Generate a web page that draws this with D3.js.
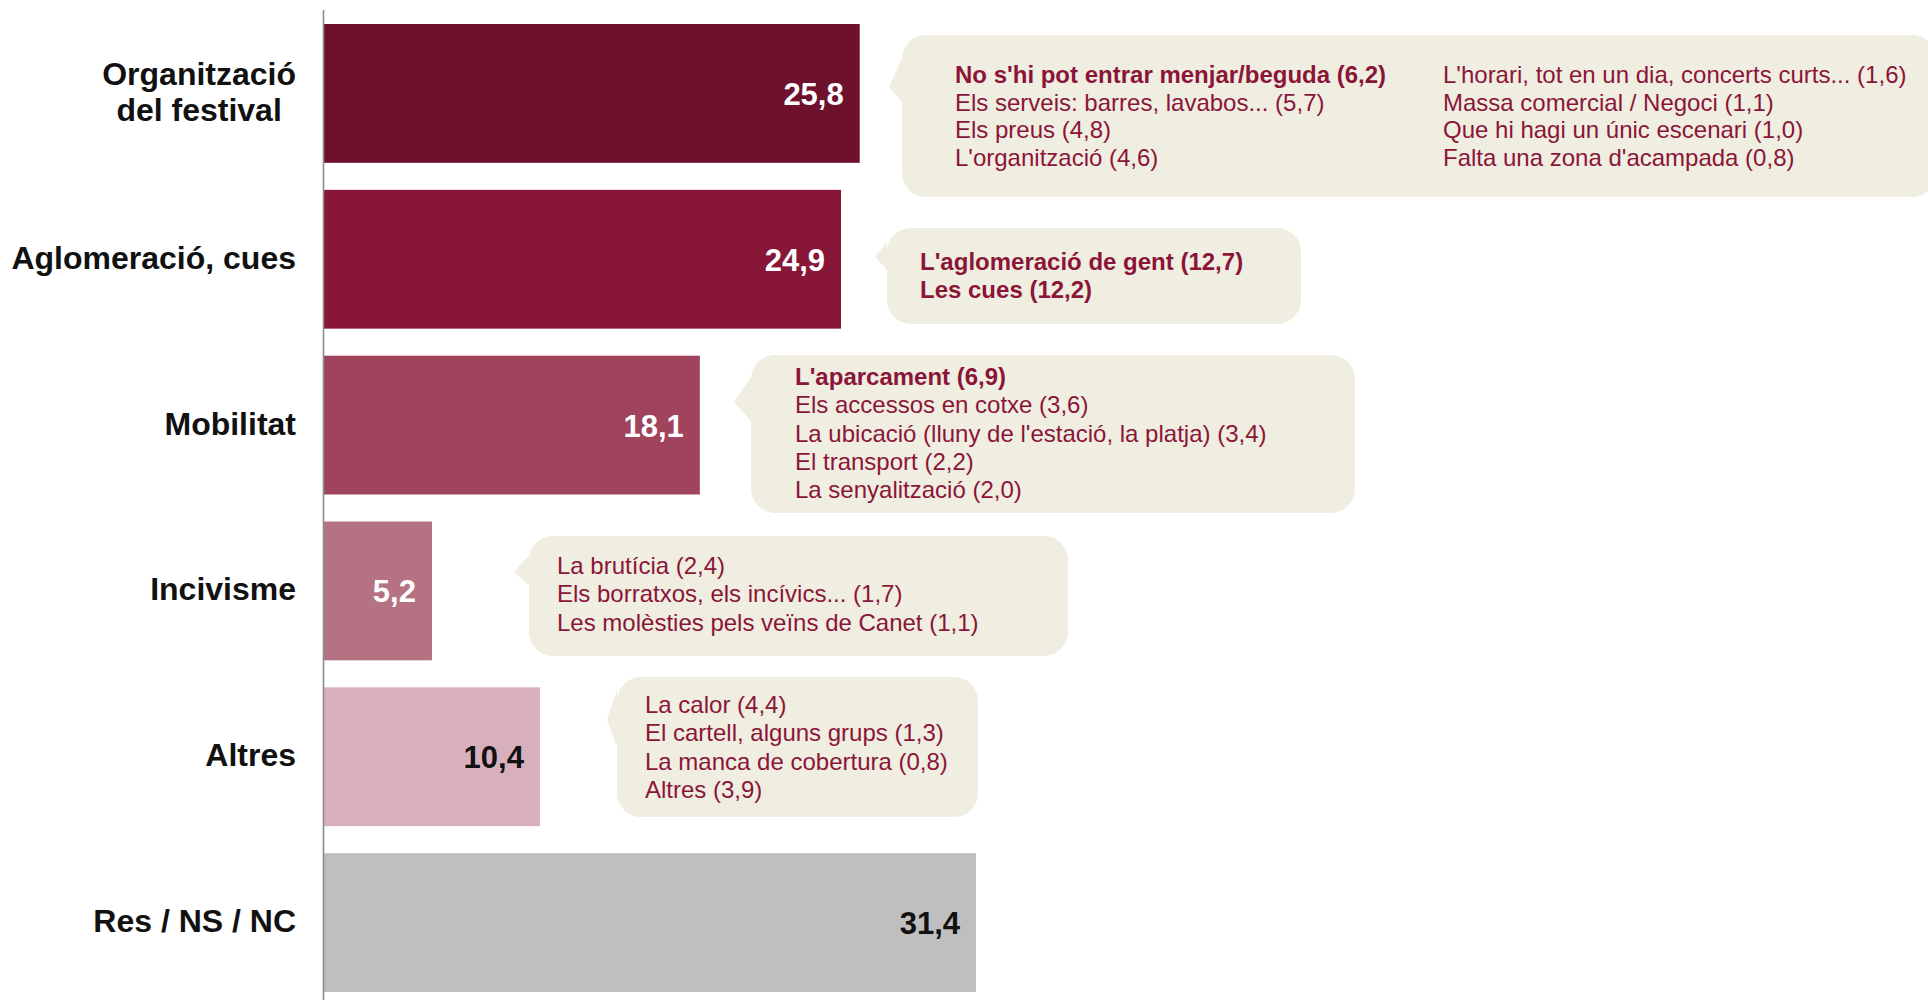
<!DOCTYPE html>
<html>
<head>
<meta charset="utf-8">
<script src="https://cdn.jsdelivr.net/npm/d3@7"></script>
<style>
  html, body { margin: 0; padding: 0; background: #ffffff; }
  svg { display: block; font-family: "Liberation Sans", Arial, Helvetica, sans-serif; }
</style>
</head>
<body>
<svg id="chart" width="1928" height="1000"></svg>
<script>
// ---------- DATA ----------
const categories = ["Organització\ndel festival", "Aglomeració, cues", "Mobilitat", "Incivisme", "Altres", "Res / NS / NC"];
const values = [25.8, 24.9, 18.1, 5.2, 10.4, 31.4];

const orgLabels = ["No s'hi pot entrar menjar/beguda", "Els serveis: barres, lavabos...", "Els preus", "L'organització",
                   "L'horari, tot en un dia, concerts curts...", "Massa comercial / Negoci", "Que hi hagi un únic escenari", "Falta una zona d'acampada"];
const orgValues = [6.2, 5.7, 4.8, 4.6, 1.6, 1.1, 1.0, 0.8];

const aglLabels = ["L'aglomeració de gent", "Les cues"];
const aglValues = [12.7, 12.2];

const mobLabels = ["L'aparcament", "Els accessos en cotxe", "La ubicació (lluny de l'estació, la platja)", "El transport", "La senyalització"];
const mobValues = [6.9, 3.6, 3.4, 2.2, 2.0];

const incLabels = ["La brutícia", "Els borratxos, els incívics...", "Les molèsties pels veïns de Canet"];
const incValues = [2.4, 1.7, 1.1];

const altLabels = ["La calor", "El cartell, alguns grups", "La manca de cobertura", "Altres"];
const altValues = [4.4, 1.3, 0.8, 3.9];

const highlighted = ["No s'hi pot entrar menjar/beguda", "L'aglomeració de gent", "Les cues", "L'aparcament"];

// ---------- STYLE / LAYOUT ----------
const barColors = ["#6d112d", "#881636", "#9f445c", "#b57283", "#d8b0bc", "#bfbfbf"];
const valueColors = ["#ffffff", "#ffffff", "#ffffff", "#ffffff", "#111111", "#111111"];
const calloutFill = "#f0ede1";
const calloutText = "#8b1538";

// callout geometry (pixels), one per category with details
const calloutLayout = [
  {x: 902, y: 35,  w: 1034, h: 162, b1: 58,  b2: 102, tx: 889, ty: 87,  textX: [955, 1443], base: 83,  perCol: 4},
  {x: 887, y: 228, w: 414,  h: 96,  b1: 242, b2: 270, tx: 875, ty: 257, textX: [920],       base: 270, perCol: 99},
  {x: 751, y: 355, w: 604,  h: 158, b1: 377, b2: 421, tx: 734, ty: 402, textX: [795],       base: 385, perCol: 99},
  {x: 529, y: 536, w: 539,  h: 120, b1: 555, b2: 585, tx: 514, ty: 572, textX: [557],       base: 574, perCol: 99},
  {x: 617, y: 677, w: 361,  h: 140, b1: 690, b2: 747, tx: 607, ty: 720, textX: [645],       base: 713, perCol: 99}
];
const detailGroups = [
  [orgLabels, orgValues], [aglLabels, aglValues], [mobLabels, mobValues], [incLabels, incValues], [altLabels, altValues]
];

const fmt = v => d3.format(".1f")(v).replace(".", ",");

const svg = d3.select("#chart");

const x = d3.scaleLinear().domain([0, 31.4]).range([324, 976]);
const y = d3.scaleBand().domain(d3.range(categories.length)).range([10.5, 1005.5]).paddingInner(0.163).paddingOuter(0.0815);

// bars
svg.append("g").selectAll("rect").data(values).join("rect")
  .attr("x", x(0))
  .attr("y", (d, i) => y(i))
  .attr("width", d => x(d) - x(0))
  .attr("height", y.bandwidth())
  .attr("fill", (d, i) => barColors[i]);

// axis line
svg.append("line")
  .attr("x1", x(0) - 0.5).attr("x2", x(0) - 0.5)
  .attr("y1", 10).attr("y2", 1000)
  .attr("stroke", "#8c8c8c").attr("stroke-width", 1.6);

// value labels
svg.append("g").selectAll("text").data(values).join("text")
  .attr("x", d => x(d) - 16)
  .attr("y", (d, i) => y(i) + y.bandwidth() / 2 + 11.5)
  .attr("text-anchor", "end")
  .attr("font-size", 31)
  .attr("font-weight", "bold")
  .attr("fill", (d, i) => valueColors[i])
  .text(d => fmt(d));

// category labels
const labelRight = 296;
const catG = svg.append("g");
categories.forEach((c, i) => {
  const lines = c.split("\n");
  const cy = y(i) + y.bandwidth() / 2 + 9.5;
  const lh = 35.6;
  const t = catG.append("text")
    .attr("font-size", 32)
    .attr("font-weight", "bold")
    .attr("fill", "#111111");
  const tspans = lines.map((ln, k) => t.append("tspan")
    .attr("y", cy + (k - (lines.length - 1) / 2) * lh)
    .text(ln));
  const widths = tspans.map(ts => ts.node().getComputedTextLength());
  const maxW = d3.max(widths);
  tspans.forEach(ts => ts.attr("x", labelRight - maxW / 2).attr("text-anchor", "middle"));
});

// callouts
function calloutPath(L) {
  const r = 24;
  const {x: X, y: Y, w: W, h: H} = L;
  return `M${X + r},${Y} H${X + W - r} A${r},${r} 0 0 1 ${X + W},${Y + r} V${Y + H - r} A${r},${r} 0 0 1 ${X + W - r},${Y + H}` +
         ` H${X + r} A${r},${r} 0 0 1 ${X},${Y + H - r} V${L.b2} L${L.tx},${L.ty} L${X},${L.b1} V${Y + r} A${r},${r} 0 0 1 ${X + r},${Y} Z`;
}

const callG = svg.append("g");
calloutLayout.forEach((L, gi) => {
  callG.append("path").attr("d", calloutPath(L)).attr("fill", calloutFill);
  const [labs, vals] = detailGroups[gi];
  const lh = gi === 0 ? 27.7 : 28.3;
  labs.forEach((lab, k) => {
    const col = Math.floor(k / L.perCol);
    const row = k % L.perCol;
    callG.append("text")
      .attr("x", L.textX[col])
      .attr("y", L.base + row * lh)
      .attr("font-size", 24)
      .attr("font-weight", highlighted.includes(lab) ? "bold" : "normal")
      .attr("fill", calloutText)
      .text(`${lab} (${fmt(vals[k])})`);
  });
});
</script>
</body>
</html>
